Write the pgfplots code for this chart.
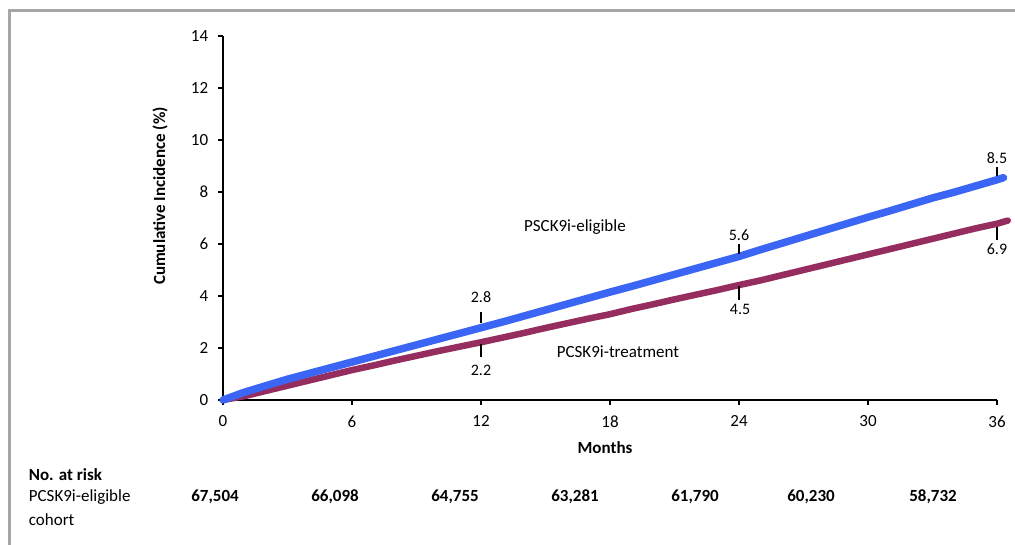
\documentclass[border=0pt]{standalone}
\usepackage{pgfplots}
\pgfplotsset{compat=1.18}
\usepackage{fontspec}
\setmainfont{Carlito}
\definecolor{cblue}{RGB}{59,102,245}
\definecolor{cred}{RGB}{150,45,95}
\definecolor{framegray}{RGB}{166,166,166}
\begin{document}
\fontsize{17}{20}\selectfont
\begin{tikzpicture}
\useasboundingbox (0,0) rectangle (1015pt,545pt);
\fill[white] (0,0) rectangle (1015pt,545pt);
\draw[framegray, line width=3pt] (9.5pt,0) -- (9.5pt,534.5pt) -- (1015pt,534.5pt);
\begin{axis}[
  at={(223pt,145pt)}, anchor=south west,
  scale only axis, width=774pt, height=364pt,
  xmin=0, xmax=36, ymin=0, ymax=14,
  xtick={0,6,...,36}, ytick={0,2,...,14},
  axis x line*=bottom, axis y line*=left,
  axis line style={line width=2.2pt, -},
  tick style={line width=1.8pt, black},
  tick align=outside, major tick length=5pt,
  xticklabel style={yshift=-5pt},
  yticklabel style={xshift=-4pt},
  /pgf/number format/assume math mode=true,
  clip=false,
]
\addplot[cred, line width=6.5pt, line join=round, line cap=round] coordinates {
 (0,0) (1,0.15) (2,0.35) (3,0.55) (4,0.75) (5,0.95) (6,1.15) (7,1.33) (8,1.52) (9,1.7)
 (10,1.88) (11,2.05) (12,2.22) (13,2.4) (14,2.58) (15,2.77) (16,2.95) (17,3.13) (18,3.3)
 (19,3.5) (20,3.68) (21,3.87) (22,4.05) (23,4.23) (24,4.42) (25,4.6) (26,4.8) (27,5.0)
 (28,5.2) (29,5.4) (30,5.6) (31,5.8) (32,6.0) (33,6.2) (34,6.4) (35,6.6) (36,6.78) (36.5,6.9)
};
\addplot[cblue, line width=7.5pt, line join=round, line cap=round] coordinates {
 (0,0) (1,0.3) (2,0.55) (3,0.8) (4,1.02) (5,1.24) (6,1.46) (7,1.68) (8,1.9) (9,2.12)
 (10,2.34) (11,2.56) (12,2.78) (13,3.0) (14,3.23) (15,3.46) (16,3.69) (17,3.92) (18,4.15)
 (19,4.37) (20,4.6) (21,4.83) (22,5.06) (23,5.29) (24,5.52) (25,5.78) (26,6.03) (27,6.28)
 (28,6.53) (29,6.78) (30,7.03) (31,7.27) (32,7.52) (33,7.77) (34,7.99) (35,8.23) (36,8.47) (36.3,8.55)
};
\draw[line width=2.4pt] (axis cs:12,2.95) -- (axis cs:12,3.4);
\draw[line width=2.4pt] (axis cs:12,2.15) -- (axis cs:12,1.65);
\draw[line width=2.4pt] (axis cs:24,5.6) -- (axis cs:24,6.0);
\draw[line width=2.4pt] (axis cs:24,4.4) -- (axis cs:24,3.85);
\draw[line width=2.4pt] (axis cs:36,8.6) -- (axis cs:36,8.96);
\draw[line width=2.4pt] (axis cs:36,6.65) -- (axis cs:36,6.15);
\node[font=\fontsize{16}{19}\selectfont] at (axis cs:12,3.95) {2.8};
\node[font=\fontsize{16}{19}\selectfont] at (axis cs:12,1.15) {2.2};
\node[font=\fontsize{16}{19}\selectfont] at (axis cs:24,6.35) {5.6};
\node[font=\fontsize{16}{19}\selectfont] at (axis cs:24.05,3.5) {4.5};
\node[font=\fontsize{16}{19}\selectfont] at (axis cs:36,9.3) {8.5};
\node[font=\fontsize{16}{19}\selectfont] at (axis cs:36,5.8) {6.9};
\node at (axis cs:16.37,6.65) {PSCK9i-eligible};
\node at (axis cs:18.37,1.85) {PCSK9i-treatment};
\end{axis}
\node[rotate=90, font=\bfseries] at (160pt,349pt) {Cumulative Incidence (\%)};
\node[font=\bfseries] at (605pt,97pt) {Months};
\node[anchor=west, font=\bfseries] at (23pt,70pt) {No. at risk};
\node[anchor=west] at (23pt,48pt) {PCSK9i-eligible};
\node[anchor=west] at (23pt,25pt) {cohort};
\node[font=\bfseries] at (215pt,48pt) {67,504};
\node[font=\bfseries] at (335pt,48pt) {66,098};
\node[font=\bfseries] at (455pt,48pt) {64,755};
\node[font=\bfseries] at (575pt,48pt) {63,281};
\node[font=\bfseries] at (695pt,48pt) {61,790};
\node[font=\bfseries] at (811pt,48pt) {60,230};
\node[font=\bfseries] at (933pt,48pt) {58,732};
\end{tikzpicture}
\end{document}
